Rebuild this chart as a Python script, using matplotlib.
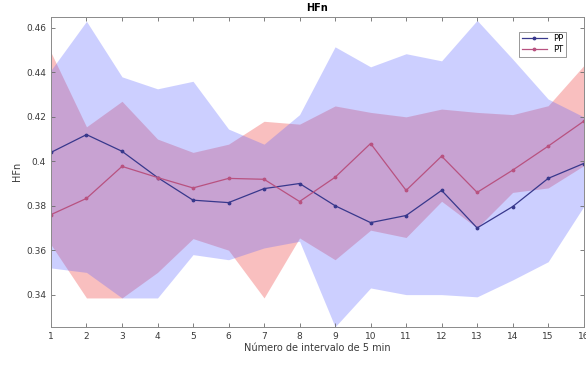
import numpy as np
import matplotlib
matplotlib.use("Agg")
import matplotlib.pyplot as plt

# --- HFn per 5-min interval: mean and band for both groups ---
intervals = np.arange(1, 17)

pp_mean = [0.404, 0.412, 0.4045, 0.3927, 0.3825, 0.3814, 0.3877, 0.390,
           0.380, 0.3724, 0.3756, 0.3869, 0.370, 0.3796, 0.3923, 0.399]
pp_upper = [0.441, 0.463, 0.438, 0.4326, 0.436, 0.4145, 0.4077, 0.421,
            0.4515, 0.4425, 0.4484, 0.4452, 0.4634, 0.446, 0.428, 0.420]
pp_lower = [0.352, 0.350, 0.3385, 0.3385, 0.358, 0.3557, 0.361, 0.364,
            0.3255, 0.343, 0.340, 0.340, 0.339, 0.3466, 0.3548, 0.3796]

pt_mean = [0.376, 0.3833, 0.3977, 0.3927, 0.388, 0.3923, 0.3919, 0.3819,
           0.3928, 0.408, 0.3869, 0.4023, 0.386, 0.396, 0.4068, 0.418]
pt_upper = [0.449, 0.4155, 0.427, 0.410, 0.404, 0.4077, 0.418, 0.4167,
            0.4249, 0.422, 0.420, 0.4235, 0.422, 0.421, 0.425, 0.443]
pt_lower = [0.3625, 0.3385, 0.3385, 0.350, 0.3652, 0.360, 0.3385, 0.3655,
            0.3557, 0.369, 0.3657, 0.382, 0.370, 0.386, 0.388, 0.398]

yticks = [0.34, 0.36, 0.38, 0.40, 0.42, 0.44, 0.46]
ytick_labels = ["0.34", "0.36", "0.38", "0.4", "0.42", "0.44", "0.46"]

fig = plt.figure(figsize=(5.86, 3.66), dpi=100)
ax = fig.add_axes([0.087, 0.107, 0.909, 0.847])

# shaded bands (PT underneath, PP on top)
ax.fill_between(intervals, pt_lower, pt_upper, color=(0.95, 0.45, 0.45),
                alpha=0.45, linewidth=0)
ax.fill_between(intervals, pp_lower, pp_upper, color=(0.35, 0.38, 1.0),
                alpha=0.3, linewidth=0)

ax.plot(intervals, pp_mean, '-', color=(0.22, 0.22, 0.55), lw=0.9,
        marker='.', markersize=3.5, label='PP')
ax.plot(intervals, pt_mean, '-', color=(0.72, 0.32, 0.5), lw=0.9,
        marker='.', markersize=3.5, label='PT')

ax.set_xlim(1, 16)
ax.set_ylim(0.3255, 0.465)
ax.set_xticks(intervals)
ax.set_yticks(yticks)
ax.set_yticklabels(ytick_labels)

grey = '#3a3a3a'
for s in ax.spines.values():
    s.set_color('#8a8a8a')
    s.set_linewidth(0.7)
ax.tick_params(direction='in', length=3, width=0.6, color='#6a6a6a',
               labelsize=6.5, labelcolor=grey, top=True, right=True)

ax.set_title('HFn', fontsize=7, fontweight='bold', pad=4)
ax.set_xlabel('Número de intervalo de 5 min', fontsize=7, color=grey, labelpad=2)
ax.set_ylabel('HFn', fontsize=7, color=grey, labelpad=3)

leg = ax.legend(loc='upper right', fontsize=6, frameon=True, fancybox=False,
                handlelength=3, borderpad=0.3, labelspacing=0.2,
                bbox_to_anchor=(0.975, 0.965))
leg.get_frame().set_edgecolor('#6a6a6a')
leg.get_frame().set_linewidth(0.6)

fig.savefig('out.png', dpi=100)
